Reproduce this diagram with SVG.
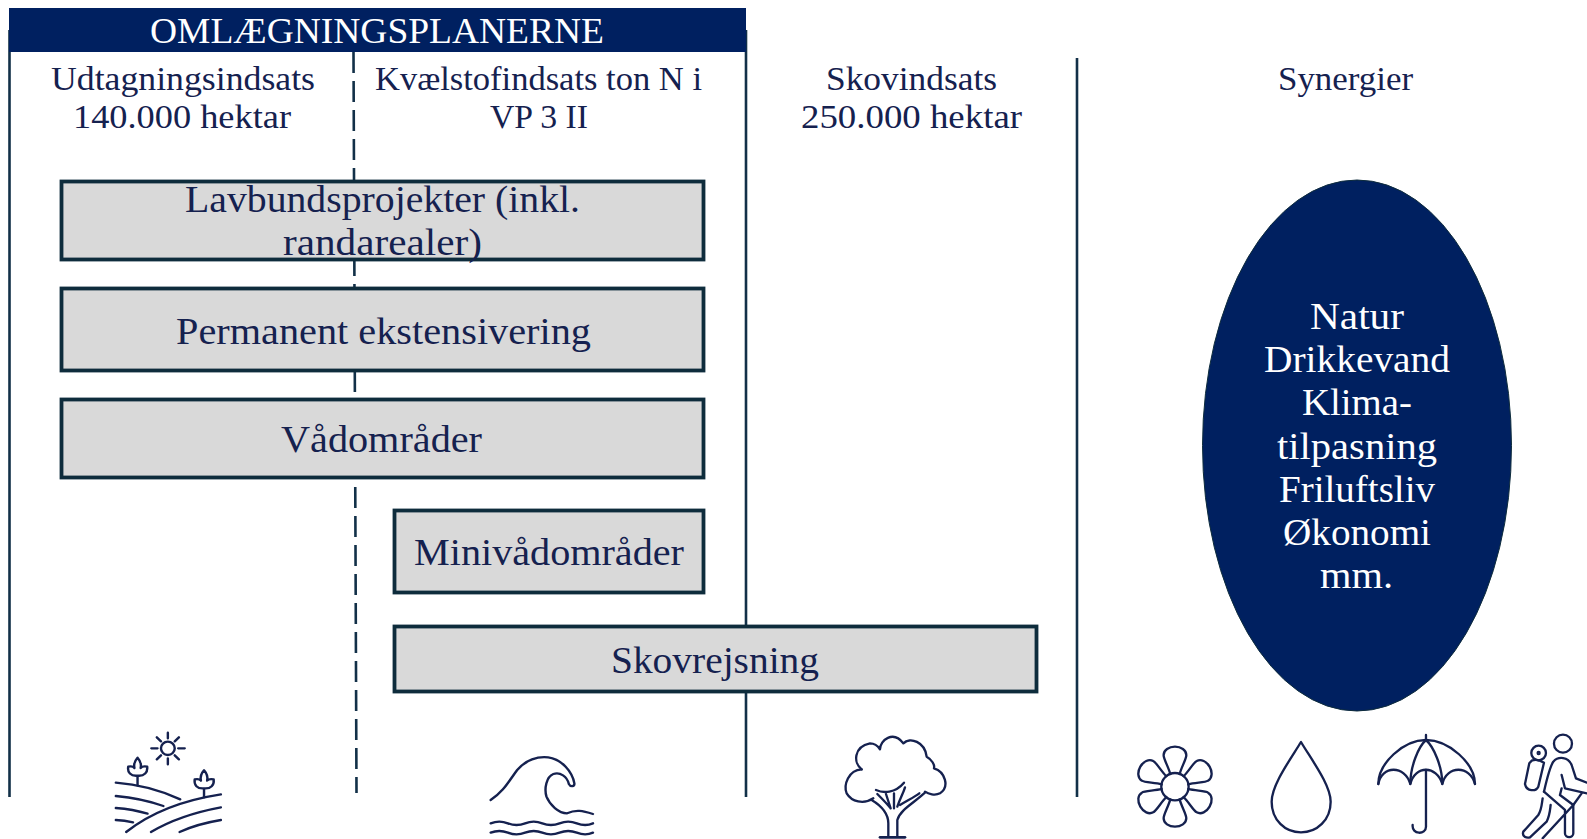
<svg xmlns="http://www.w3.org/2000/svg" width="1587" height="839" viewBox="0 0 1587 839">
<style>
text{font-family:"Liberation Serif","Times New Roman",serif;fill:#15214f}
.h{font-size:35px;fill:#fff}
.c{font-size:33px}
.b{font-size:38px}
.e{font-size:38px;fill:#fff}
.ln{fill:none;stroke:#123048;stroke-width:2.6}
.box{fill:#d9d9d9;stroke:#0e2c3c;stroke-width:3.8}
.i{fill:none;stroke:#15214f;stroke-width:7;stroke-linecap:round;stroke-linejoin:round}
</style>
<rect width="1587" height="839" fill="#fff"/>
<g id="connectors">
<path class="ln" d="M9.5 30V797M746 30V797M1077 58V797"/>
<path class="ln" d="M353.500 52L356.500 793" stroke-dasharray="21 8"/>
</g>
<g id="header">
<rect x="9" y="8" width="737" height="44" fill="#002060"/>
<text class="h" x="150" y="43" textLength="454" lengthAdjust="spacingAndGlyphs">OMLÆGNINGSPLANERNE</text>
</g>
<g id="column-heads">
<text class="c" x="51" y="90" textLength="264" lengthAdjust="spacingAndGlyphs">Udtagningsindsats</text>
<text class="c" x="73" y="128" textLength="218" lengthAdjust="spacingAndGlyphs">140.000 hektar</text>
<text class="c" x="375" y="90" textLength="327" lengthAdjust="spacingAndGlyphs">Kvælstofindsats ton N i</text>
<text class="c" x="490" y="128" textLength="98" lengthAdjust="spacingAndGlyphs">VP 3 II</text>
<text class="c" x="826" y="90" textLength="171" lengthAdjust="spacingAndGlyphs">Skovindsats</text>
<text class="c" x="801" y="128" textLength="221" lengthAdjust="spacingAndGlyphs">250.000 hektar</text>
<text class="c" x="1278" y="90" textLength="135" lengthAdjust="spacingAndGlyphs">Synergier</text>
</g>
<g id="box-lavbund">
<rect class="box" x="61.500" y="181.500" width="642" height="78"/>
<text class="b" x="185" y="212" textLength="395" lengthAdjust="spacingAndGlyphs">Lavbundsprojekter (inkl.</text>
<text class="b" x="283" y="255" textLength="199" lengthAdjust="spacingAndGlyphs">randarealer)</text>
</g>
<g id="box-permanent">
<rect class="box" x="61.500" y="288.500" width="642" height="82"/>
<text class="b" x="176" y="344" textLength="415" lengthAdjust="spacingAndGlyphs">Permanent ekstensivering</text>
</g>
<g id="box-vaad">
<rect class="box" x="61.500" y="399.500" width="642" height="78"/>
<text class="b" x="281" y="452" textLength="201" lengthAdjust="spacingAndGlyphs">Vådområder</text>
</g>
<g id="box-mini">
<rect class="box" x="394.500" y="510.500" width="309" height="82"/>
<text class="b" x="414" y="565" textLength="270" lengthAdjust="spacingAndGlyphs">Minivådområder</text>
</g>
<g id="box-skov">
<rect class="box" x="394.500" y="626.500" width="642" height="65"/>
<text class="b" x="611" y="673" textLength="208" lengthAdjust="spacingAndGlyphs">Skovrejsning</text>
</g>
<g id="synergier">
<ellipse cx="1357" cy="445.500" rx="154.500" ry="265.500" fill="#002060" stroke="#0e2c3c" stroke-width="1"/>
<text class="e" x="1310" y="329" textLength="94" lengthAdjust="spacingAndGlyphs">Natur</text>
<text class="e" x="1264" y="372" textLength="186" lengthAdjust="spacingAndGlyphs">Drikkevand</text>
<text class="e" x="1302" y="415" textLength="110" lengthAdjust="spacingAndGlyphs">Klima-</text>
<text class="e" x="1277" y="459" textLength="160" lengthAdjust="spacingAndGlyphs">tilpasning</text>
<text class="e" x="1279" y="502" textLength="156" lengthAdjust="spacingAndGlyphs">Friluftsliv</text>
<text class="e" x="1283" y="545" textLength="148" lengthAdjust="spacingAndGlyphs">Økonomi</text>
<text class="e" x="1320" y="588" textLength="73" lengthAdjust="spacingAndGlyphs">mm.</text>
</g>
<g id="icon-field" class="i" transform="translate(90 710) scale(.3445 .3333)">
<circle cx="226" cy="115" r="20"/>
<path d="M226 68V85M226 145V163M178 115H196M256 115H275M194 82L206 94M258 82L246 94M194 148L206 136M258 148L246 136"/>
<path d="M75 218Q170 225 262 268M75 258Q150 265 213 288M75 294Q125 298 167 311M75 330Q100 331 125 337M105 366Q210 280 380 253M177 366Q260 315 380 292M260 366Q310 342 380 330"/>
<path d="M138 226V197M138 197C118 199 108 187 111 170C120 168 126 170 129 174C126 160 130 152 138 143C146 152 150 160 147 174C150 170 156 168 166 170C168 187 158 199 138 197Z"/>
<path d="M331 262V235M331 235C311 237 301 225 304 208C313 206 319 208 322 212C319 198 323 190 331 181C339 190 343 198 340 212C343 208 349 206 359 208C361 225 351 237 331 235Z"/>
</g>
<g id="icon-wave" class="i" transform="translate(90 710) scale(.3445 .3333)">
<path d="M1163 270C1200 245 1215 215 1240 180C1265 150 1300 138 1330 142C1370 148 1400 185 1406 220C1407 230 1395 232 1390 222C1385 200 1365 185 1345 192C1325 200 1318 235 1325 260C1335 285 1360 310 1385 310C1410 298 1430 302 1460 312"/>
<path d="M1163 340q25-10 50 0t50 0t50 0t50 0t50 0t47 0M1163 368q25-10 50 0t50 0t50 0t50 0t50 0t47 0"/>
</g>
<g id="icon-tree" class="i" transform="translate(820 710) scale(.3333)">
<path d="M125 178C100 160 100 110 150 100C165 100 175 110 180 118C180 90 220 60 250 100C270 80 315 95 320 140C335 148 345 165 342 175C375 185 390 230 360 250C345 258 325 252 315 245"/>
<path d="M125 178C85 180 70 225 80 250C95 275 130 285 160 265M168 240C190 250 225 250 252 218"/>
<path d="M155 270C180 285 205 310 205 340V380M232 380V330C240 300 280 280 315 248M172 252C185 265 200 280 212 295M198 252L212 295M222 295L222 250M232 290C240 265 250 250 255 232M240 285C265 270 285 260 298 250"/>
<path d="M180 382H255" stroke-width="8"/>
</g>
<g id="icon-flower" class="i" transform="translate(820 710) scale(.3333)">
<circle cx="1065" cy="230" r="41"/>
<g transform="translate(1065 230)">
<path d="M-14-38C-20-60-35-85-34-95C-34-110-18-120 0-120C18-120 34-110 34-95C35-85 20-60 14-38"/>
<path transform="rotate(60)" d="M-14-38C-20-60-35-85-34-95C-34-110-18-120 0-120C18-120 34-110 34-95C35-85 20-60 14-38"/>
<path transform="rotate(120)" d="M-14-38C-20-60-35-85-34-95C-34-110-18-120 0-120C18-120 34-110 34-95C35-85 20-60 14-38"/>
<path transform="rotate(180)" d="M-14-38C-20-60-35-85-34-95C-34-110-18-120 0-120C18-120 34-110 34-95C35-85 20-60 14-38"/>
<path transform="rotate(240)" d="M-14-38C-20-60-35-85-34-95C-34-110-18-120 0-120C18-120 34-110 34-95C35-85 20-60 14-38"/>
<path transform="rotate(300)" d="M-14-38C-20-60-35-85-34-95C-34-110-18-120 0-120C18-120 34-110 34-95C35-85 20-60 14-38"/>
</g>
</g>
<g id="icon-drop" class="i" transform="translate(1240 710) scale(.3333)">
<path d="M183 96C150 150 95 225 95 275C95 330 135 367 183 367C231 367 272 330 272 275C272 225 215 150 183 96Z"/>
</g>
<g id="icon-umbrella" class="i" transform="translate(1240 710) scale(.3333)">
<path d="M415 222C415 160 490 90 558 90C626 90 705 160 705 222"/>
<path d="M415 222C425 165 495 165 511 222C525 165 590 165 607 222C620 165 690 165 705 222"/>
<path d="M511 222C511 170 535 110 558 90C581 110 607 170 607 222M558 75V90M558 180V350C558 375 515 375 518 345"/>
</g>
<g id="icon-hiker" class="i" transform="translate(1240 710) scale(.3333)">
<circle cx="969" cy="101" r="27"/>
<circle cx="896" cy="129" r="22"/>
<circle cx="896" cy="129" r="3"/>
<path d="M875 152C885 148 900 150 912 158L895 230C888 245 860 245 855 222L868 160Z"/>
<path d="M912 245C920 210 930 170 940 155C955 138 985 140 995 165L1008 205L1041 218M965 195L975 235L1041 250M960 255L965 235M960 255L1000 285L1025 250"/>
<path d="M912 245L975 300V370C975 385 1000 385 1000 370V285M908 265C905 285 905 300 895 315L850 365C845 380 860 385 870 382L920 335C930 315 930 300 932 285M908 385L1000 285"/>
</g>
</svg>
